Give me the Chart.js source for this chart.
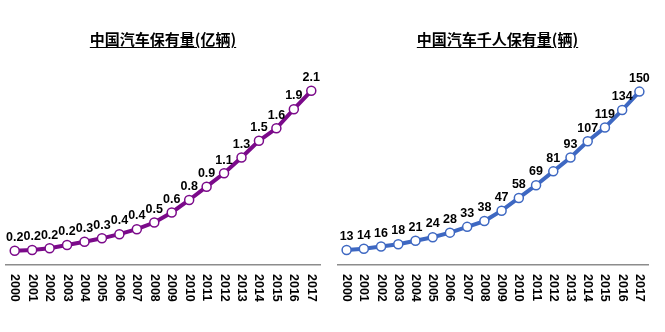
<!DOCTYPE html>
<html>
<head>
<meta charset="utf-8">
<script src="https://cdn.jsdelivr.net/npm/chart.js@4.4.0/dist/chart.umd.min.js"></script>
<style>
  body { margin: 0; background: #fff; }
  #wrap { position: relative; width: 665px; height: 332px; overflow: hidden; }
  .box { position: absolute; top: 0; height: 332px; }
  .title {
    position: absolute; top: 29px; left: 0; right: 0; text-align: center;
    font-family: "Noto Sans CJK SC", sans-serif; font-weight: bold; font-size: 15px;
    color: #000; text-decoration: underline; text-underline-offset: 2px; line-height: 20px;
  }
</style>
</head>
<body>
<div id="wrap">
  <div class="box" style="left:0;width:332px">
    <canvas id="chartLeft" width="332" height="332"></canvas>
    <div class="title" style="left:-6px">中国汽车保有量(亿辆)</div>
  </div>
  <div class="box" style="left:332px;width:333px">
    <canvas id="chartRight" width="333" height="332"></canvas>
    <div class="title" style="left:-2px">中国汽车千人保有量(辆)</div>
  </div>
</div>
<script>
// années
const years = ['2000','2001','2002','2003','2004','2005','2006','2007','2008',
               '2009','2010','2011','2012','2013','2014','2015','2016','2017'];

//保有量 (亿辆)
const totalCars = [0.17, 0.18, 0.20, 0.24, 0.28, 0.32, 0.37, 0.43, 0.51,
                   0.63, 0.78, 0.94, 1.10, 1.29, 1.49, 1.64, 1.87, 2.09];

// 千人保有量 (辆)
const carsPerThousand = [13, 14, 16, 18, 21, 24, 28, 33, 38,
                         47, 58, 69, 81, 93, 107, 119, 134, 150];

// petit plugin : étiquettes au-dessus des points + années verticales
const labelsPlugin = {
  id: 'labelsPlugin',
  afterDatasetsDraw(chart, args, opts) {
    const ctx = chart.ctx;
    const meta = chart.getDatasetMeta(0);
    const data = chart.data.datasets[0].data;
    ctx.save();
    ctx.fillStyle = '#000';
    ctx.font = 'bold 12.5px "Liberation Sans", Arial, sans-serif';
    ctx.textAlign = 'center';
    ctx.textBaseline = 'bottom';
    meta.data.forEach((pt, i) => {
      ctx.fillText(opts.format(data[i]), pt.x, pt.y - 7);
    });
    // années, écrites de haut en bas
    const xScale = chart.scales.x;
    ctx.font = 'bold 12.5px "Liberation Sans", Arial, sans-serif';
    ctx.textAlign = 'left';
    ctx.textBaseline = 'middle';
    chart.data.labels.forEach((lab, i) => {
      const x = xScale.getPixelForTick(i);
      ctx.save();
      ctx.translate(x, xScale.bottom + 9);
      ctx.rotate(Math.PI / 2);
      ctx.fillText(lab, 0, 0);
      ctx.restore();
    });
    ctx.restore();
  }
};

function makeChart(id, values, color, yMax, pad, fmt) {
  return new Chart(document.getElementById(id).getContext('2d'), {
    type: 'line',
    data: {
      labels: years,
      datasets: [{
        data: values,
        borderColor: color,
        borderWidth: 4,
        pointRadius: 4.5,
        pointBorderWidth: 1.5,
        pointBackgroundColor: '#fff',
        pointBorderColor: color,
        tension: 0
      }]
    },
    options: {
      responsive: false,
      animation: false,
      layout: { padding: pad },
      plugins: {
        legend: { display: false },
        tooltip: { enabled: false },
        labelsPlugin: { format: fmt }
      },
      scales: {
        x: {
          offset: true,
          grid: { display: false, drawTicks: false },
          ticks: { display: false },
          border: { display: true, color: '#8c8c8c', width: 1.5 }
        },
        y: { display: false, min: 0, max: yMax }
      }
    },
    plugins: [labelsPlugin]
  });
}

makeChart('chartLeft', totalCars, '#7b0a8a', 2.4,
          { top: 65, bottom: 67, left: 6, right: 12 }, v => v.toFixed(1));
makeChart('chartRight', carsPerThousand, '#3e68c2', 173,
          { top: 65, bottom: 67, left: 3, right: 17 }, v => String(v));
</script>
</body>
</html>
